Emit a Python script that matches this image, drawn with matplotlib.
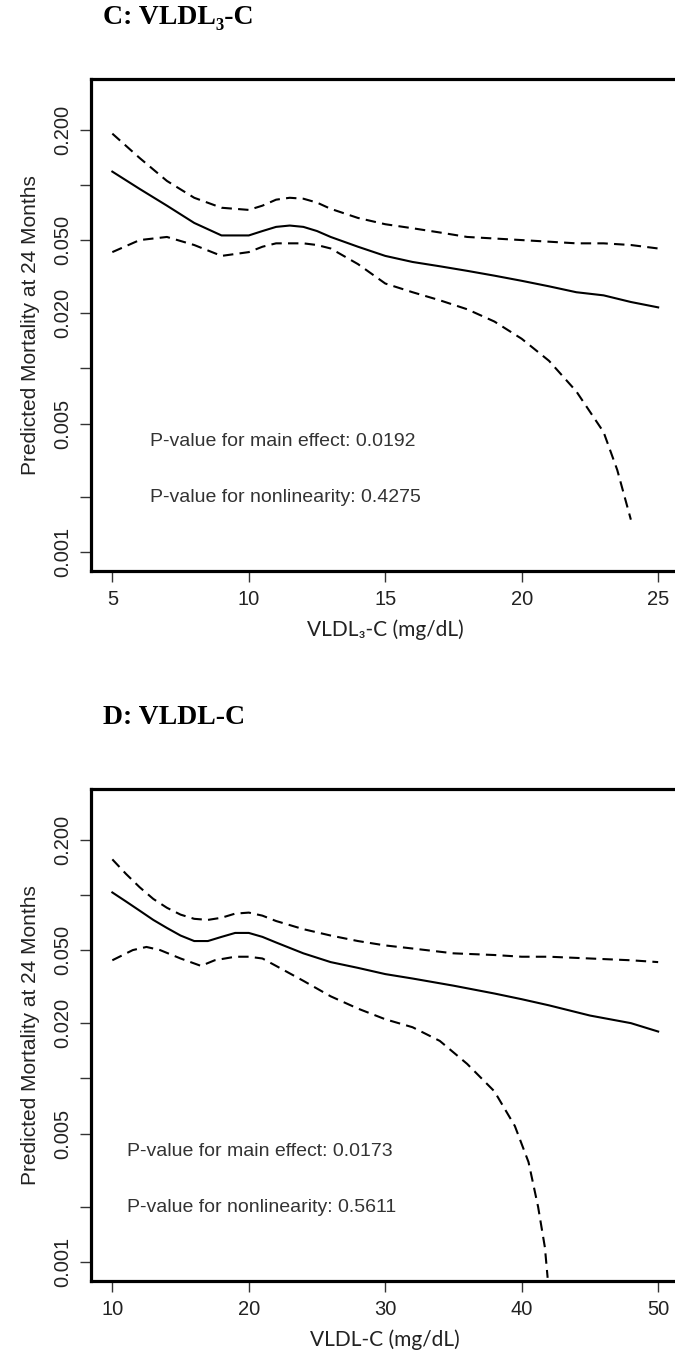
import matplotlib
matplotlib.use("Agg")
import matplotlib.pyplot as plt
from matplotlib.ticker import FixedLocator, NullLocator

# panel C: VLDL3-C
c_x = [5, 6, 7, 8, 9, 10, 10.5, 11, 11.5, 12, 12.5, 13, 14, 15, 16, 17, 18, 19, 20, 21, 22, 23, 24, 25]
c_fit = [0.118, 0.095, 0.077, 0.062, 0.053, 0.053, 0.056, 0.059, 0.060, 0.059, 0.056, 0.052,
         0.046, 0.041, 0.038, 0.036, 0.034, 0.032, 0.030, 0.028, 0.026, 0.025, 0.023, 0.0215]
c_upper = [0.19, 0.14, 0.105, 0.085, 0.075, 0.073, 0.077, 0.083, 0.085, 0.084, 0.080, 0.074,
           0.066, 0.061, 0.058, 0.055, 0.052, 0.051, 0.050, 0.049, 0.048, 0.048, 0.047, 0.045]
c_low_x = [5, 6, 7, 8, 9, 10, 10.5, 11, 11.5, 12, 12.5, 13, 14, 15, 16, 17, 18, 19, 20, 21, 22,
           23, 23.5, 24]
c_lower = [0.043, 0.050, 0.052, 0.047, 0.041, 0.043, 0.046, 0.048, 0.048, 0.048, 0.047, 0.045,
           0.037, 0.029, 0.026, 0.0235, 0.021, 0.018, 0.0145, 0.011, 0.0075, 0.0045, 0.0028, 0.0015]

# panel D: VLDL-C
d_x = [10, 11, 12, 13, 14, 15, 16, 17, 18, 19, 20, 21, 22, 24, 26, 28, 30, 32, 35, 38, 40, 42,
       45, 48, 50]
d_fit = [0.103, 0.092, 0.082, 0.073, 0.066, 0.060, 0.056, 0.056, 0.059, 0.062, 0.062, 0.059,
         0.055, 0.048, 0.043, 0.040, 0.037, 0.035, 0.032, 0.029, 0.027, 0.025, 0.022, 0.020, 0.018]
d_upper = [0.156, 0.13, 0.11, 0.095, 0.085, 0.078, 0.074, 0.073, 0.075, 0.079, 0.080, 0.077,
           0.072, 0.065, 0.060, 0.056, 0.053, 0.051, 0.048, 0.047, 0.046, 0.046, 0.045, 0.044, 0.043]
d_low_x = [10, 11.5, 12.5, 13.5, 15, 16.5, 17.5, 19, 20, 21, 22, 24, 26, 28, 30, 32, 34, 36, 38,
           39.5, 40.5, 41.2, 41.7, 41.9]
d_lower = [0.044, 0.050, 0.052, 0.050, 0.045, 0.041, 0.044, 0.046, 0.046, 0.045, 0.041, 0.034,
           0.028, 0.024, 0.021, 0.019, 0.016, 0.012, 0.0085, 0.0055, 0.0035, 0.002, 0.0012, 0.00082]

y_ticks = [0.001, 0.002, 0.005, 0.01, 0.02, 0.05, 0.1, 0.2]
y_labels = ["0.001", "", "0.005", "", "0.020", "0.050", "", "0.200"]

W, H = 675, 1357
fig = plt.figure(figsize=(W / 100, H / 100), dpi=100)
sans = ["Liberation Sans", "DejaVu Sans"]
serif = ["Liberation Serif", "DejaVu Serif"]


def add_panel(top, title_y, x, fit, up, lx, lo, xlim, xticks, title, xlabel, pvals, ptext_x):
    left, right, bottom = 90.5, 680, top + 492
    ax = fig.add_axes([left / W, 1 - bottom / H, (right - left) / W, (bottom - top) / H])
    ax.plot(x, fit, color="black", lw=1.5)
    ax.plot(x, up, color="black", lw=1.5, dashes=(5, 3))
    ax.plot(lx, lo, color="black", lw=1.5, dashes=(5, 3))
    ax.set_yscale("log")
    ax.set_ylim(0.000788, 0.377)
    ax.set_xlim(*xlim)
    ax.yaxis.set_major_locator(FixedLocator(y_ticks))
    ax.yaxis.set_minor_locator(NullLocator())
    ax.set_yticklabels(y_labels, rotation=90, va="center", family=sans, fontsize=14.5, color="#222222")
    ax.set_xticks(xticks)
    ax.set_xticklabels([str(t) for t in xticks], family=sans, fontsize=14.5, color="#222222")
    ax.tick_params(axis="both", length=8, width=1, color="#333333")
    ax.tick_params(axis="y", pad=5)
    ax.tick_params(axis="x", pad=6)
    for s in ax.spines.values():
        s.set_linewidth(2.3)
    ax.set_ylabel("Predicted Mortality at 24 Months", family=sans, fontsize=15, color="#222222", labelpad=10)
    ax.set_xlabel(xlabel, family=["Lato", "DejaVu Sans"], fontsize=15, color="#222222", labelpad=7)
    fig.text(103 / W, 1 - title_y / H, title, family=serif, fontweight="bold", fontsize=20,
             va="center", ha="left")
    for i, p in enumerate(pvals):
        ty = top + 362 + i * 56
        fig.text(ptext_x / W, 1 - ty / H, p, family=sans, fontsize=14, color="#333333",
                 va="center", ha="left")
    return ax


add_panel(79, 18, c_x, c_fit, c_upper, c_low_x, c_lower, (4.2, 25.8), [5, 10, 15, 20, 25],
          "C: VLDL\u2083-C", "VLDL\u2083-C (mg/dL)",
          ["P-value for main effect: 0.0192", "P-value for nonlinearity: 0.4275"], 150)
add_panel(789, 717, d_x, d_fit, d_upper, d_low_x, d_lower, (8.4, 51.6), [10, 20, 30, 40, 50],
          "D: VLDL-C", "VLDL-C (mg/dL)",
          ["P-value for main effect: 0.0173", "P-value for nonlinearity: 0.5611"], 127)

fig.savefig("out.png", dpi=100)
